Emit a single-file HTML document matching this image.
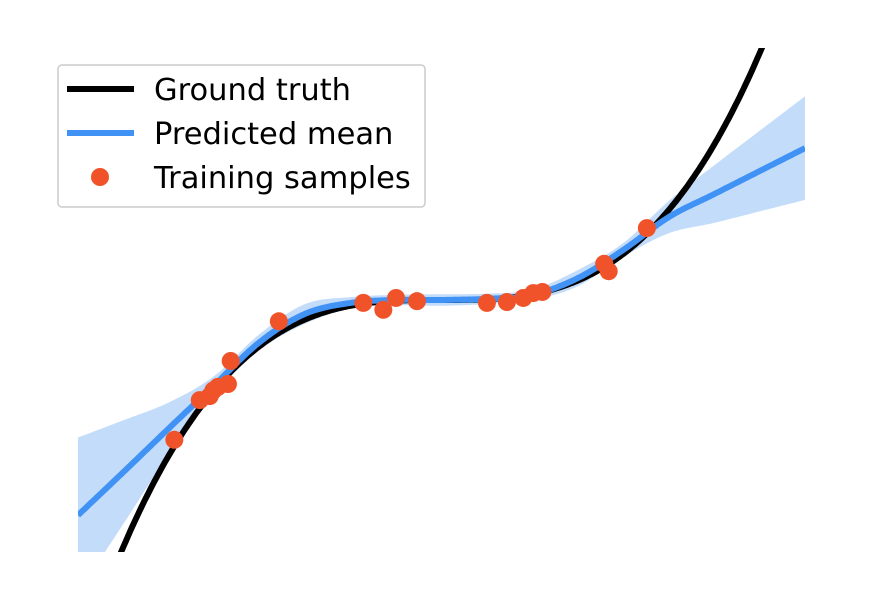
<!DOCTYPE html>
<html><head><meta charset="utf-8"><style>
html,body{margin:0;background:#fff;width:870px;height:590px;overflow:hidden;}
svg{display:block;font-family:"DejaVu Sans","Liberation Sans",sans-serif;}
</style></head><body>
<svg id="chart" width="870" height="590">
<defs><clipPath id="plotclip"><rect x="78" y="48" width="727" height="504"/></clipPath></defs>
<g id="plot" clip-path="url(#plotclip)"></g>
<g>
<rect x="58" y="65" width="367" height="142" rx="4" fill="#fff" fill-opacity="0.8" stroke="#cccccc" stroke-width="1.5"/>
<line x1="67" y1="89" x2="134" y2="89" stroke="#000" stroke-width="6"/>
<text x="154" y="100" font-size="30.5">Ground truth</text>
<line x1="67" y1="133" x2="134" y2="133" stroke="#4192f5" stroke-width="6"/>
<text x="154" y="144" font-size="30.5">Predicted mean</text>
<circle cx="100" cy="177" r="9" fill="#f0532a"/>
<text x="154" y="188" font-size="30.5">Training samples</text>
</g>
</svg>
<script>
const gridX=[-4,-3.5,-3,-2.5,-2,-1.5,-1,-0.5,0,0.5,1,1.5,2,2.5,3,3.5,4];
const meanY=[-37.4,-29.9,-22.3,-14.8,-7.3,-2.4,-0.5,0,0,0.2,0.9,3.8,8.7,14.4,18.4,22.4,26.4];
const stdY=[13.5,9.0,4.5,1.6,1.4,1.7,1.0,0.9,1.0,0.9,0.9,1.4,1.2,2.8,5.0,7.0,9.0];
const sampleX=[-2.94,-2.66,-2.55,-2.51,-2.46,-2.35,-2.32,-1.79,-0.86,-0.64,-0.50,-0.27,0.50,0.72,0.90,1.01,1.11,1.79,1.84,2.26];
const sampleY=[-24.3,-17.4,-16.7,-15.7,-15.1,-14.6,-10.6,-3.7,-0.5,-1.7,0.35,-0.2,-0.5,-0.35,0.35,1.2,1.4,6.3,5.0,12.5];
const xMin=-4,xMax=4,yMin=-43.8,yMax=43.8;
const L=78,R=805,T=48,B=552;
function sx(x){return L+(x-xMin)/(xMax-xMin)*(R-L);}
function sy(y){return B-(y-yMin)/(yMax-yMin)*(B-T);}
function interp(xs,ys,x){
  const n=ys.length;
  let i=Math.min(n-2,Math.max(0,Math.floor((x-xs[0])/(xs[1]-xs[0]))));
  const t=(x-xs[i])/(xs[i+1]-xs[i]);
  const p1=ys[i],p2=ys[i+1];
  const p0=i>0?ys[i-1]:2*p1-p2;
  const p3=i+2<n?ys[i+2]:2*p2-p1;
  return 0.5*((2*p1)+(-p0+p2)*t+(2*p0-5*p1+4*p2-p3)*t*t+(-p0+3*p1-3*p2+p3)*t*t*t);
}
const NS="http://www.w3.org/2000/svg";
const plot=document.getElementById('plot');
const N=400;const xs=[];for(let i=0;i<=N;i++)xs.push(xMin+(xMax-xMin)*i/N);
let up=[],lo=[],mp=[],gt=[];
xs.forEach(x=>{const m=interp(gridX,meanY,x),s=interp(gridX,stdY,x);
 up.push(sx(x).toFixed(1)+','+sy(m+s).toFixed(1));lo.push(sx(x).toFixed(1)+','+sy(m-s).toFixed(1));
 mp.push(sx(x).toFixed(1)+','+sy(m).toFixed(1));gt.push(sx(x).toFixed(1)+','+sy(x*x*x).toFixed(1));});
const band=document.createElementNS(NS,'polygon');
band.setAttribute('points',up.concat(lo.reverse()).join(' '));
band.setAttribute('fill','#c3dcfa');


plot.appendChild(band);
const g=document.createElementNS(NS,'polyline');
g.setAttribute('points',gt.join(' '));g.setAttribute('fill','none');g.setAttribute('stroke','#000');g.setAttribute('stroke-width','6');


plot.appendChild(g);
const m=document.createElementNS(NS,'polyline');
m.setAttribute('points',mp.join(' '));m.setAttribute('fill','none');m.setAttribute('stroke','#4192f5');m.setAttribute('stroke-width','6');


plot.appendChild(m);
sampleX.forEach((x,i)=>{const c=document.createElementNS(NS,'circle');
 c.setAttribute('cx',sx(x));c.setAttribute('cy',sy(sampleY[i]));c.setAttribute('r','9');c.setAttribute('fill','#f0532a');
 
 
 plot.appendChild(c);});
</script>
</body></html>
